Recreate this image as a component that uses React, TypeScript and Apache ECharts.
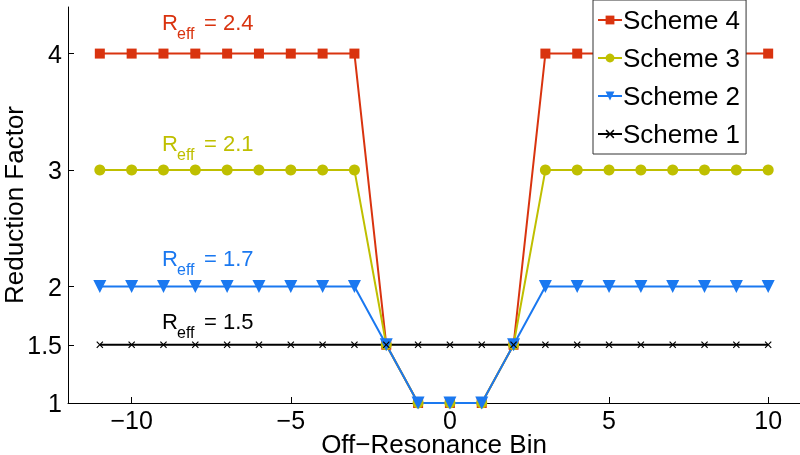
import React, { useEffect, useRef } from "react";
import * as echarts from "echarts";

const xBins = [-11, -10, -9, -8, -7, -6, -5, -4, -3, -2, -1, 0, 1, 2, 3, 4, 5, 6, 7, 8, 9, 10];
const scheme4 = [4, 4, 4, 4, 4, 4, 4, 4, 4, 1.5, 1, 1, 1, 1.5, 4, 4, 4, 4, 4, 4, 4, 4];
const scheme3 = [3, 3, 3, 3, 3, 3, 3, 3, 3, 1.5, 1, 1, 1, 1.5, 3, 3, 3, 3, 3, 3, 3, 3];
const scheme2 = [2, 2, 2, 2, 2, 2, 2, 2, 2, 1.5, 1, 1, 1, 1.5, 2, 2, 2, 2, 2, 2, 2, 2];
const scheme1 = [1.5, 1.5, 1.5, 1.5, 1.5, 1.5, 1.5, 1.5, 1.5, 1.5, 1.5, 1.5, 1.5, 1.5, 1.5, 1.5, 1.5, 1.5, 1.5, 1.5, 1.5, 1.5];
const seriesNames = ["Scheme 4", "Scheme 3", "Scheme 2", "Scheme 1"];
const reffLabels = ["2.4", "2.1", "1.7", "1.5"];
const xTicks = [-10, -5, 0, 5, 10];
const yTicks = [1, 1.5, 2, 3, 4];

const RED = "#D9330F";
const YEL = "#BFBF00";
const BLUE = "#1A78F0";
const BLK = "#000000";
const FONT = "'Liberation Sans', Arial, Helvetica, sans-serif";

const X_SYMBOL =
  "path://M0,1.2 L1.2,0 L5,3.8 L8.8,0 L10,1.2 L6.2,5 L10,8.8 L8.8,10 L5,6.2 L1.2,10 L0,8.8 L3.8,5 Z";

export default function App() {
  const ref = useRef<HTMLDivElement>(null);
  useEffect(() => {
    if (!ref.current) return;
    const chart = echarts.init(ref.current, null, { renderer: "svg" });
    const mk = (name: string, vals: number[], color: string, symbol: string, size: number) => ({
      name,
      type: "line",
      data: xBins.map((x, i) => [x, vals[i]]),
      symbol,
      symbolSize: size,
      lineStyle: { color, width: 2 },
      itemStyle: { color },
      emphasis: { disabled: true },
    });
    const labelY = [22, 143, 258, 321];
    const colors = [RED, YEL, BLUE, BLK];
    const graphics = reffLabels.map((v, i) => ({
      type: "group",
      x: 162,
      y: labelY[i],
      children: [
        { type: "text", x: 0, y: 0, style: { text: "R", font: `22px ${FONT}`, fill: colors[i], verticalAlign: "middle" } },
        { type: "text", x: 15, y: 11, style: { text: "eff", font: `16px ${FONT}`, fill: colors[i], verticalAlign: "middle" } },
        { type: "text", x: 42, y: 0, style: { text: "= " + v, font: `22px ${FONT}`, fill: colors[i], verticalAlign: "middle" } },
      ],
    }));
    chart.setOption({
      animation: false,
      grid: { left: 68, right: 0, top: 7, bottom: 52, containLabel: false, outerBoundsMode: "none" },
      legend: {
        data: seriesNames,
        orient: "vertical",
        left: 593,
        top: 0,
        itemWidth: 24,
        itemHeight: 11,
        itemGap: 8,
        padding: [5, 6, 5, 4],
        borderColor: "#333",
        borderWidth: 1,
        backgroundColor: "#fff",
        textStyle: { fontFamily: FONT, fontSize: 26, color: "#000", lineHeight: 30, padding: [0, 0, 0, -4] },
        selectedMode: false,
      },
      xAxis: {
        type: "value",
        min: -12,
        max: 11,
        name: "Off\u2212Resonance Bin",
        nameLocation: "middle",
        nameGap: 31,
        nameMoveOverlap: false,
        nameTextStyle: { fontFamily: FONT, fontSize: 26, lineHeight: 20, color: "#000" },
        axisLine: { onZero: false, lineStyle: { color: "#000", width: 1 } },
        axisTick: { inside: true, length: 6, customValues: xTicks, lineStyle: { color: "#000" } },
        axisLabel: {
          customValues: xTicks,
          fontFamily: FONT,
          fontSize: 25,
          lineHeight: 20,
          color: "#000",
          margin: 7,
          formatter: (v: number) => String(v).replace("-", "\u2212"),
        },
        splitLine: { show: false },
      },
      yAxis: {
        type: "value",
        min: 1,
        max: 4.4,
        name: "Reduction Factor",
        nameLocation: "middle",
        nameGap: 42,
        nameMoveOverlap: false,
        nameTextStyle: { fontFamily: FONT, fontSize: 26, lineHeight: 24, color: "#000" },
        axisLine: { show: true, onZero: false, lineStyle: { color: "#000", width: 1 } },
        axisTick: { show: true, inside: true, length: 6, customValues: yTicks, lineStyle: { color: "#000" } },
        axisLabel: { customValues: yTicks, fontFamily: FONT, fontSize: 25, color: "#000", margin: 6 },
        splitLine: { show: false },
      },
      graphic: graphics,
      series: [
        mk("Scheme 4", scheme4, RED, "rect", 10),
        mk("Scheme 3", scheme3, YEL, "circle", 11),
        mk("Scheme 2", scheme2, BLUE, "path://M0,0 L10,0 L5,9 Z", 13),
        mk("Scheme 1", scheme1, BLK, X_SYMBOL, 7),
      ],
    });
    return () => chart.dispose();
  }, []);
  return <div ref={ref} style={{ position: "fixed", left: 0, top: 0, width: 800, height: 455 }} />;
}
